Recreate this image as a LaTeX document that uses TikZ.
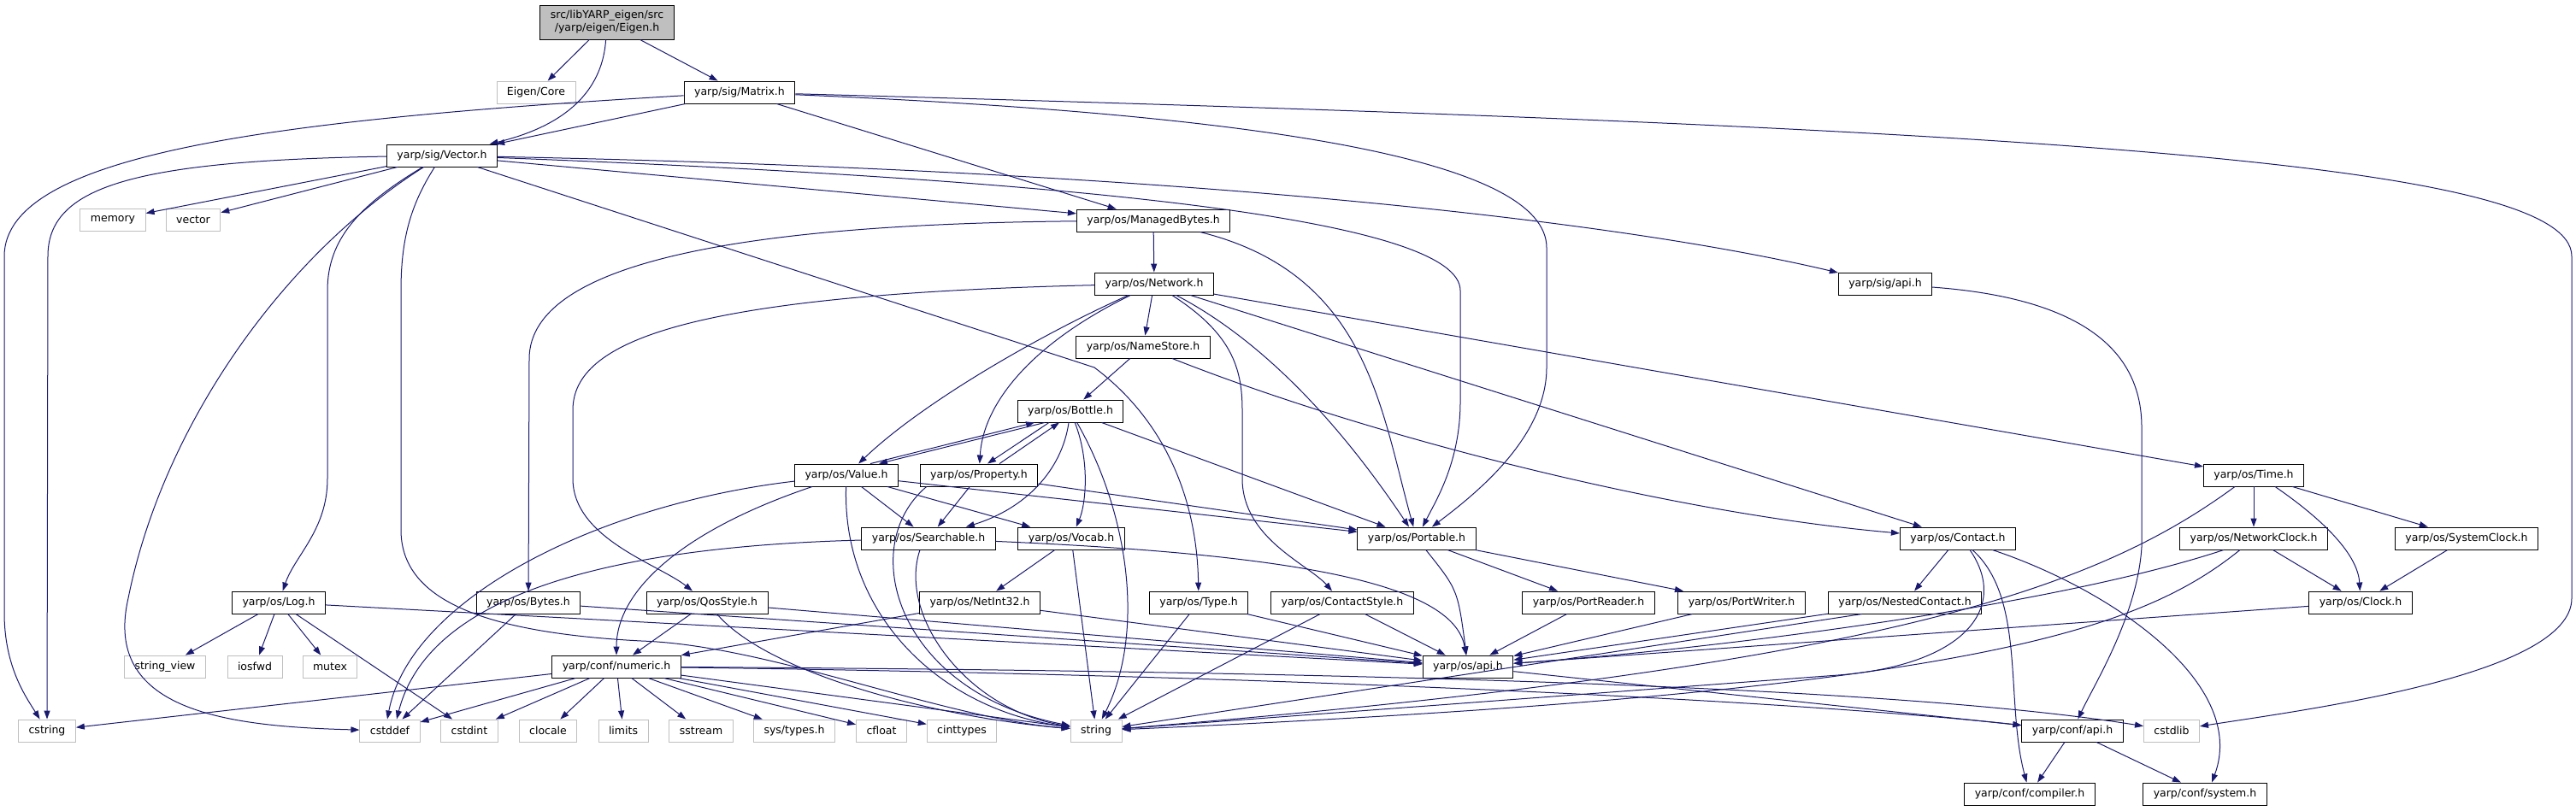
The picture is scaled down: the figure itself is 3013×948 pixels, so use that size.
\documentclass[tikz,border=0pt]{standalone}
\usepackage{fontspec}
\setmainfont{DejaVu Sans}
\usepackage{tikz}
\usetikzlibrary{arrows.meta}
\usepackage{xcolor}
\definecolor{edgeblue}{RGB}{25,25,112}
\definecolor{extgray}{RGB}{191,191,191}
\definecolor{rootgray}{RGB}{191,191,191}

\begin{document}
\begin{tikzpicture}[x=1pt,y=-1pt,every node/.style={font=\fontsize{12.5}{15}\selectfont},
  hdr/.style={draw=black,line width=0.9pt,minimum height=26pt,inner xsep=12pt,inner ysep=0pt},
  sys/.style={hdr,draw=extgray},
  root/.style={hdr,fill=rootgray,align=center,minimum height=40pt},
  inc/.style={draw=edgeblue,line width=1pt,-{Triangle[length=10pt,width=7pt]}}]
\useasboundingbox (0,0) rectangle (3013,948);
\node[root] (eigen) at (710,26) {src/libYARP\_eigen/src\\/yarp/eigen/Eigen.h};
\node[sys] (core) at (627,108) {Eigen/Core};
\node[hdr] (matrix) at (865,108) {yarp/sig/Matrix.h};
\node[hdr] (vector) at (517,182) {yarp/sig/Vector.h};
\node[sys] (memory) at (132,257) {memory};
\node[sys] (vec) at (226,257) {vector};
\node[hdr] (mbytes) at (1349,258) {yarp/os/ManagedBytes.h};
\node[hdr] (network) at (1350,332) {yarp/os/Network.h};
\node[hdr] (sigapi) at (2205,332) {yarp/sig/api.h};
\node[hdr] (namestore) at (1337,406) {yarp/os/NameStore.h};
\node[hdr] (bottle) at (1252,481) {yarp/os/Bottle.h};
\node[hdr] (value) at (990,556) {yarp/os/Value.h};
\node[hdr] (property) at (1145,556) {yarp/os/Property.h};
\node[hdr] (time) at (2636,556) {yarp/os/Time.h};
\node[hdr] (searchable) at (1086,630) {yarp/os/Searchable.h};
\node[hdr] (vocab) at (1253,630) {yarp/os/Vocab.h};
\node[hdr] (portable) at (1657,630) {yarp/os/Portable.h};
\node[hdr] (contact) at (2290,630) {yarp/os/Contact.h};
\node[hdr] (netclock) at (2636,630) {yarp/os/NetworkClock.h};
\node[hdr] (sysclock) at (2885,630) {yarp/os/SystemClock.h};
\node[hdr] (log) at (326,705) {yarp/os/Log.h};
\node[hdr] (bytes) at (618,705) {yarp/os/Bytes.h};
\node[hdr] (qos) at (827,705) {yarp/os/QosStyle.h};
\node[hdr] (netint) at (1146,705) {yarp/os/NetInt32.h};
\node[hdr] (type) at (1402,705) {yarp/os/Type.h};
\node[hdr] (cstyle) at (1570,705) {yarp/os/ContactStyle.h};
\node[hdr] (preader) at (1858,705) {yarp/os/PortReader.h};
\node[hdr] (pwriter) at (2037,705) {yarp/os/PortWriter.h};
\node[hdr] (nested) at (2228,705) {yarp/os/NestedContact.h};
\node[hdr] (clock) at (2761,705) {yarp/os/Clock.h};
\node[sys] (strview) at (193,780) {string\_view};
\node[sys] (iosfwd) at (298,780) {iosfwd};
\node[sys] (mutex) at (386,780) {mutex};
\node[hdr] (numeric) at (721,780) {yarp/conf/numeric.h};
\node[hdr] (osapi) at (1717,780) {yarp/os/api.h};
\node[sys] (cstring) at (55,855) {cstring};
\node[sys] (cstddef) at (456,855) {cstddef};
\node[sys] (cstdint) at (549,855) {cstdint};
\node[sys] (clocale) at (641,855) {clocale};
\node[sys] (limits) at (729,855) {limits};
\node[sys] (sstream) at (820,855) {sstream};
\node[sys] (systypes) at (929,855) {sys/types.h};
\node[sys] (cfloat) at (1031,855) {cfloat};
\node[sys] (cinttypes) at (1125,855) {cinttypes};
\node[sys] (string) at (1282,855) {string};
\node[hdr] (confapi) at (2424,855) {yarp/conf/api.h};
\node[sys] (cstdlib) at (2540,855) {cstdlib};
\node[hdr] (compiler) at (2374,929) {yarp/conf/compiler.h};
\node[hdr] (system) at (2579,929) {yarp/conf/system.h};
\draw[inc] (eigen) -- (core);
\draw[inc] (eigen) .. controls (705,100) and (670,145) .. (vector);
\draw[inc] (eigen) -- (matrix);
\draw[inc] (matrix) .. controls (320,140) and (5,180) .. (5,300) -- (5,717) .. controls (5,780) and (30,815) .. (cstring);
\draw[inc] (matrix) -- (vector);
\draw[inc] (matrix) -- (mbytes);
\draw[inc] (matrix) .. controls (1500,135) and (1809,190) .. (1809,290) -- (1809,430) .. controls (1809,510) and (1730,575) .. (portable);
\draw[inc] (matrix) .. controls (2400,150) and (3008,190) .. (3008,300) -- (3008,700) .. controls (3008,790) and (2700,830) .. (cstdlib);
\draw[inc] (vector) .. controls (150,188) and (56,220) .. (56,300) -- (cstring);
\draw[inc] (vector) -- (memory);
\draw[inc] (vector) -- (vec);
\draw[inc] (vector) .. controls (330,300) and (190,500) .. (150,700) .. controls (120,830) and (260,850) .. (cstddef);
\draw[inc] (vector) .. controls (420,240) and (383,280) .. (383,340) -- (383,560) .. controls (383,620) and (345,650) .. (log);
\draw[inc] (vector) .. controls (480,240) and (469,280) .. (469,340) -- (469,620) .. controls (469,700) and (560,740) .. (750,750) .. controls (900,755) and (1100,840) .. (string);
\draw[inc] (vector) -- (mbytes);
\draw[inc] (vector) .. controls (1300,212) and (1708,260) .. (1708,340) -- (1708,470) .. controls (1708,540) and (1680,585) .. (portable);
\draw[inc] (vector) .. controls (1400,200) and (1900,260) .. (sigapi);
\draw[inc] (vector) -- (1280,430) .. controls (1360,490) and (1400,580) .. (type);
\draw[inc] (mbytes) -- (network);
\draw[inc] (mbytes) .. controls (900,262) and (619,300) .. (619,420) -- (bytes);
\draw[inc] (mbytes) .. controls (1600,320) and (1615,480) .. (portable);
\draw[inc] (network) .. controls (1220,390) and (1080,470) .. (value);
\draw[inc] (network) .. controls (1210,400) and (1150,470) .. (property);
\draw[inc] (network) -- (namestore);
\draw[inc] (network) .. controls (800,345) and (670,400) .. (670,480) -- (670,560) .. controls (670,630) and (770,660) .. (qos);
\draw[inc] (network) .. controls (1440,390) and (1453,430) .. (1453,480) -- (1453,560) .. controls (1453,630) and (1530,660) .. (cstyle);
\draw[inc] (network) .. controls (1480,400) and (1570,500) .. (portable);
\draw[inc] (network) -- (contact);
\draw[inc] (network) -- (time);
\draw[inc] (namestore) -- (bottle);
\draw[inc] (namestore) .. controls (1600,510) and (1950,600) .. (contact);
\draw[inc] ([xshift=-30pt]bottle.south) -- ([xshift=38pt]value.north);
\draw[inc] ([xshift=28pt]value.north) -- ([xshift=-42pt]bottle.south);
\draw[inc] ([xshift=-25pt]bottle.south) -- ([xshift=10pt]property.north);
\draw[inc] ([xshift=24pt]property.north) -- ([xshift=-13pt]bottle.south);
\draw[inc] (bottle) .. controls (1242,550) and (1200,595) .. (searchable);
\draw[inc] (bottle) .. controls (1275,540) and (1270,590) .. (vocab);
\draw[inc] (bottle) .. controls (1320,600) and (1340,740) .. (string);
\draw[inc] (bottle) -- (portable);
\draw[inc] (value) -- (searchable);
\draw[inc] (value) -- (vocab);
\draw[inc] (value) -- (portable);
\draw[inc] (value) .. controls (800,620) and (721,690) .. (numeric);
\draw[inc] (value) .. controls (700,590) and (480,700) .. ([xshift=-3pt]cstddef.north);
\draw[inc] (value) .. controls (985,720) and (1100,830) .. (string);
\draw[inc] (property) -- (searchable);
\draw[inc] (property) -- (portable);
\draw[inc] ([xshift=8pt]property.south west) .. controls (1000,640) and (1050,810) .. (string);
\draw[inc] (searchable) .. controls (700,640) and (500,700) .. ([xshift=8pt]cstddef.north);
\draw[inc] ([xshift=-10pt]searchable.south) .. controls (1050,720) and (1130,830) .. (string);
\draw[inc] (searchable) .. controls (1500,648) and (1700,680) .. (osapi);
\draw[inc] (vocab) -- (netint);
\draw[inc] (vocab) -- (string);
\draw[inc] (netint) -- (numeric);
\draw[inc] (netint) -- (osapi);
\draw[inc] (type) -- (string);
\draw[inc] (type) -- (osapi);
\draw[inc] (cstyle) -- (string);
\draw[inc] (cstyle) -- (osapi);
\draw[inc] (portable) .. controls (1705,690) .. (osapi);
\draw[inc] (portable) -- (preader);
\draw[inc] (portable) -- (pwriter);
\draw[inc] (preader) -- (osapi);
\draw[inc] (pwriter) -- (osapi);
\draw[inc] (log) -- (strview);
\draw[inc] (log) -- (iosfwd);
\draw[inc] (log) -- (mutex);
\draw[inc] (log) -- (cstdint);
\draw[inc] (log) -- (osapi);
\draw[inc] (bytes) -- (cstddef);
\draw[inc] (bytes) -- (osapi);
\draw[inc] (qos) -- (numeric);
\draw[inc] (qos) .. controls (900,790) and (1100,840) .. (string);
\draw[inc] (qos) -- (osapi);
\draw[inc] (numeric) -- (cstring);
\draw[inc] (numeric) -- (cstddef);
\draw[inc] (numeric) -- (cstdint);
\draw[inc] (numeric) -- (clocale);
\draw[inc] (numeric) -- (limits);
\draw[inc] (numeric) -- (sstream);
\draw[inc] (numeric) -- (systypes);
\draw[inc] (numeric) -- (cfloat);
\draw[inc] (numeric) -- (cinttypes);
\draw[inc] (numeric) -- (string);
\draw[inc] (numeric) .. controls (1500,785) and (2200,800) .. (cstdlib);
\draw[inc] (numeric) .. controls (1500,790) and (2100,820) .. (confapi);
\draw[inc] (osapi) -- (confapi);
\draw[inc] (sigapi) .. controls (2450,350) and (2505,420) .. (2505,500) -- (2505,640) .. controls (2500,720) and (2450,800) .. (confapi);
\draw[inc] (confapi) -- (compiler);
\draw[inc] (confapi) -- (system);
\draw[inc] (contact) -- (nested);
\draw[inc] ([xshift=17pt]contact.south) .. controls (2370,700) and (2345,820) .. (compiler);
\draw[inc] (contact) .. controls (2470,690) and (2630,800) .. ([xshift=8pt]system.north);
\draw[inc] ([xshift=14pt]contact.south) .. controls (2350,710) and (2300,778) .. (2150,790) -- (string);
\draw[inc] (nested) -- (osapi);
\draw[inc] ([xshift=-50pt]nested.south) -- (string);
\draw[inc] (time) -- (netclock);
\draw[inc] ([xshift=25pt]time.south) .. controls (2720,610) and (2758,650) .. (clock);
\draw[inc] (time) -- (sysclock);
\draw[inc] ([xshift=-22pt]time.south) .. controls (2450,690) and (2200,780) .. (string);
\draw[inc] ([xshift=-35pt]netclock.south) .. controls (2400,710) and (2000,760) .. (osapi);
\draw[inc] ([xshift=-16pt]netclock.south) .. controls (2500,740) and (2300,810) .. (string);
\draw[inc] (netclock) -- (clock);
\draw[inc] (sysclock) -- (clock);
\draw[inc] (clock) -- (osapi);
\end{tikzpicture}
\end{document}
